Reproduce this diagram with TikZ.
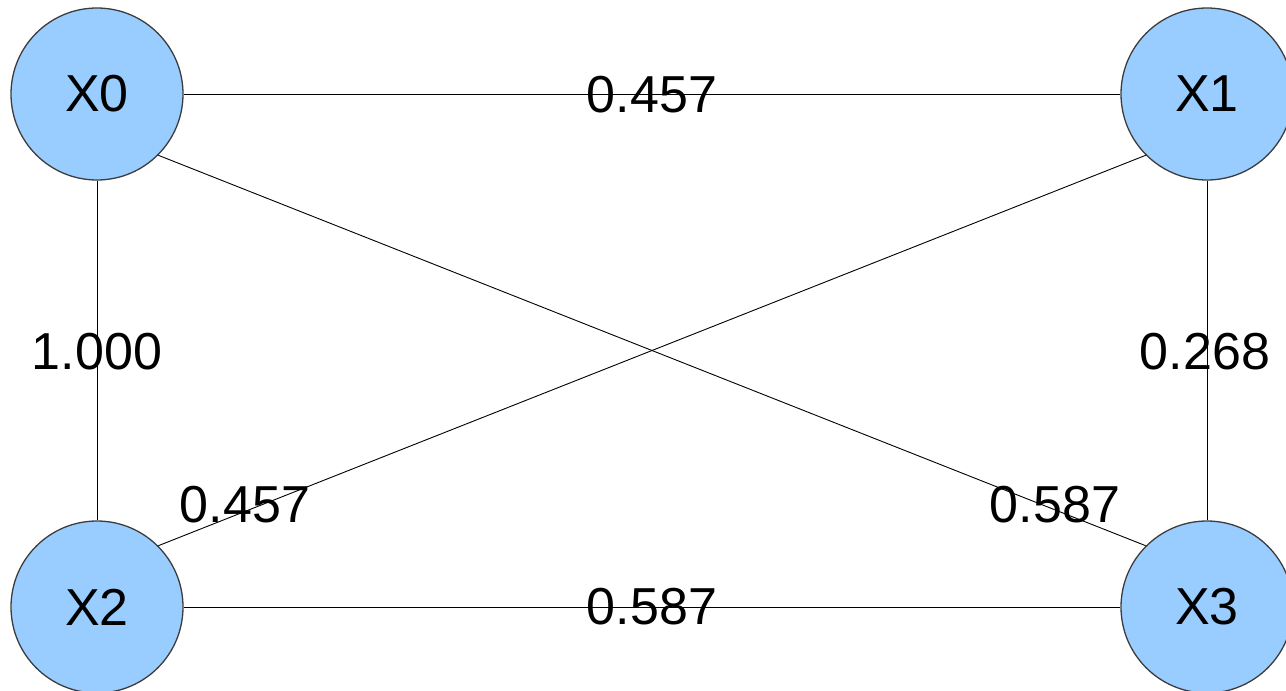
\documentclass[tikz,border=0pt]{standalone}
\usepackage{fontspec}
\setmainfont{Liberation Sans}
\begin{document}
\begin{tikzpicture}[x=1pt,y=-1pt,
  vert/.style={circle, fill={rgb,255:red,153;green,204;blue,255}, draw={rgb,255:red,60;green,60;blue,60}, line width=1.3pt, minimum size=172pt, inner sep=0pt, font=\fontsize{52}{52}\selectfont},
  edge/.style={draw=black, line width=0.9pt},
  wlabel/.style={font=\fontsize{52}{52}\selectfont, inner sep=0pt}]
\useasboundingbox (0,0) rectangle (1286,691);
\node[vert] (X0) at (97,94) {X0};
\node[vert] (X1) at (1207,94) {X1};
\node[vert] (X2) at (97,607) {X2};
\node[vert] (X3) at (1207,607) {X3};
\draw[edge] (X0.east) -- (X1.west);
\draw[edge] (X2.east) -- (X3.west);
\draw[edge] (X0.south) -- (X2.north);
\draw[edge] (X1.south) -- (X3.north);
\draw[edge] (X0.south east) -- (X3.north west);
\draw[edge] (X1.south west) -- (X2.north east);
\node[wlabel] (l01) at (652,95) {0.457};
\node[wlabel] (l23) at (652,607) {0.587};
\node[wlabel] (l02) at (97,352) {1.000};
\node[wlabel] (l13) at (1205,352) {0.268};
\node[wlabel] (l12) at (245,505) {0.457};
\node[wlabel] (l03) at (1055,505) {0.587};
\end{tikzpicture}
\end{document}
